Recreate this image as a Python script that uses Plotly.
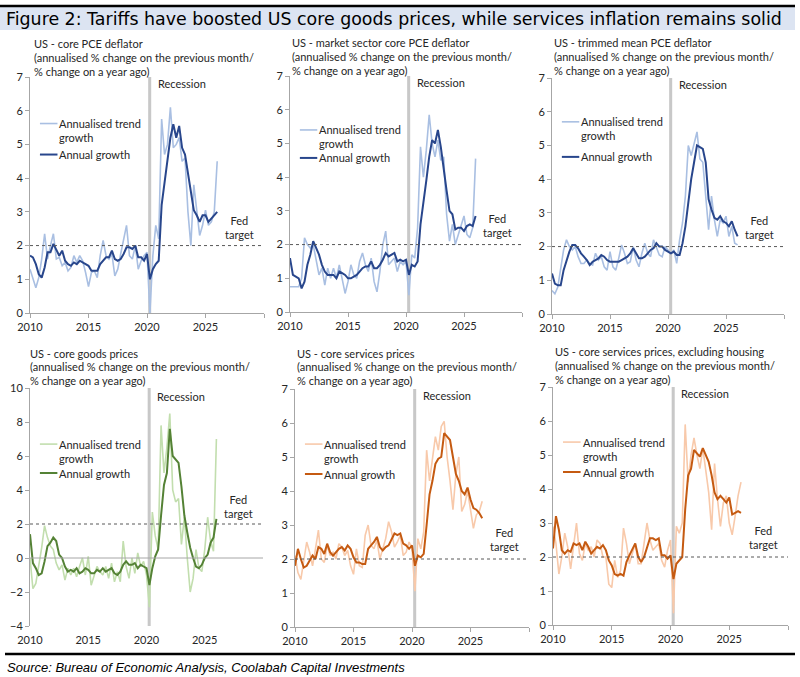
import plotly.graph_objects as go
from plotly.subplots import make_subplots

# quarterly observations, 2010Q1 .. 2026Q1 (decimal years)
quarters = [2010 + 0.25 * i for i in range(65)]

# US - core PCE deflator
pce_trend = [1.30, 1.00, 0.75, 1.05, 1.60, 2.35, 1.60, 2.00, 2.35, 1.60, 1.65, 1.40, 1.50, 1.25, 1.35, 1.70,
             1.50, 1.70, 1.55, 1.20, 0.78, 1.20, 1.25, 1.05, 1.70, 2.15, 1.70, 1.60, 1.75, 1.10, 1.30, 1.75,
             2.20, 2.60, 1.70, 1.60, 2.00, 1.30, 1.55, 1.70, 1.80, 0.00, 1.70, 2.60, 2.20, 5.75, 4.70, 5.00,
             6.10, 4.90, 5.00, 5.20, 4.50, 4.60, 3.00, 2.00, 3.80, 3.00, 2.30, 2.60, 3.05, 2.60, 2.70, 3.00, 4.50]
pce_annual = [1.70, 1.65, 1.45, 1.15, 1.05, 1.35, 1.80, 1.80, 2.05, 1.85, 1.70, 1.85, 1.55, 1.45, 1.40, 1.50,
              1.45, 1.55, 1.50, 1.45, 1.40, 1.25, 1.25, 1.25, 1.45, 1.55, 1.65, 1.65, 1.85, 1.60, 1.55, 1.60,
              1.75, 1.95, 1.95, 1.90, 2.00, 1.65, 1.65, 1.55, 1.75, 1.00, 1.30, 1.45, 1.55, 3.20, 3.90, 4.60,
              5.20, 5.60, 5.20, 5.55, 4.90, 4.70, 4.10, 3.50, 3.05, 2.90, 2.70, 2.90, 2.90, 2.70, 2.80, 2.90, 3.00]

# US - market sector core PCE deflator
mkt_trend = [0.75, 0.75, 0.75, 0.75, 1.00, 2.20, 2.00, 1.90, 2.00, 1.50, 1.10, 1.30, 0.80, 1.30, 1.00, 1.30,
             1.00, 1.40, 1.00, 0.55, 0.90, 1.40, 1.10, 1.00, 1.50, 1.75, 1.40, 1.20, 1.60, 0.90, 0.60, 1.20,
             2.00, 2.40, 1.40, 1.50, 1.60, 1.20, 1.50, 1.40, 1.50, 0.50, 1.70, 1.60, 2.50, 4.90, 4.00, 4.80,
             5.85, 5.00, 4.60, 5.10, 4.50, 4.60, 2.90, 2.10, 2.60, 2.00, 2.30, 2.60, 2.85, 2.30, 2.20, 2.50, 4.55]
mkt_annual = [1.60, 1.10, 1.05, 1.00, 0.70, 0.90, 1.40, 1.70, 2.10, 1.90, 1.70, 1.40, 1.20, 1.10, 1.10, 1.10,
              1.00, 1.20, 1.15, 1.10, 1.00, 1.00, 1.05, 1.10, 1.20, 1.30, 1.35, 1.35, 1.50, 1.30, 1.30, 1.40,
              1.55, 1.75, 1.65, 1.70, 1.75, 1.50, 1.55, 1.50, 1.55, 1.10, 1.40, 1.35, 1.50, 2.60, 3.20, 3.90,
              4.60, 5.10, 5.00, 5.40, 4.90, 4.20, 3.60, 3.00, 2.90, 2.45, 2.50, 2.50, 2.40, 2.55, 2.60, 2.55, 2.85]

# US - trimmed mean PCE deflator
trim_trend = [0.70, 0.60, 0.80, 1.30, 1.90, 2.20, 2.00, 1.90, 2.00, 1.70, 1.50, 1.50, 1.60, 1.50, 1.45, 1.80,
              1.60, 1.70, 1.40, 1.30, 1.85, 1.40, 1.30, 1.65, 2.05, 1.80, 1.50, 1.55, 2.00, 1.60, 1.40, 1.80,
              2.10, 1.80, 1.70, 2.20, 2.00, 1.75, 1.70, 2.00, 1.90, 1.80, 1.90, 1.50, 2.20, 2.70, 3.50, 5.00,
              4.70, 5.05, 5.40, 4.60, 4.50, 3.50, 2.50, 3.50, 2.80, 2.30, 2.80, 2.70, 2.90, 2.30, 2.60, 2.10, 2.05]
trim_annual = [1.20, 0.90, 0.85, 0.85, 1.30, 1.60, 1.85, 2.05, 2.05, 1.95, 1.80, 1.70, 1.60, 1.45, 1.55, 1.60,
               1.65, 1.75, 1.70, 1.60, 1.55, 1.55, 1.55, 1.55, 1.60, 1.65, 1.70, 1.80, 1.95, 1.80, 1.65, 1.65,
               1.70, 1.80, 1.90, 1.95, 2.10, 2.00, 2.00, 1.90, 1.85, 1.80, 1.85, 1.75, 1.75, 2.10, 2.60, 3.40,
               4.00, 4.50, 5.00, 4.95, 4.90, 4.50, 3.40, 3.10, 2.85, 2.80, 2.90, 2.75, 2.70, 2.60, 2.75, 2.50, 2.30]

# US - core goods prices
goods_trend = [0.00, -1.80, -1.50, -0.50, 0.60, 1.90, 1.20, 0.70, 0.50, -0.30, -0.70, -0.40, -1.30, -0.60, -1.00, -0.60,
               -1.10, -0.50, 0.00, -1.00, 0.10, -1.60, -1.00, -0.50, -0.80, -1.00, -0.50, -1.20, -0.30, -1.40, -0.80, -1.40,
               1.00, -0.50, -1.20, 0.00, -0.90, 0.30, -0.50, -0.20, -1.00, -2.90, 2.70, 1.30, 0.50, 7.80, 5.00, 6.50,
               8.50, 4.00, 3.30, 3.50, 0.80, 2.40, 0.00, -2.00, -1.20, 0.50, -0.60, -0.80, 0.50, 2.40, 1.00, 0.40, 7.00]
goods_annual = [1.40, -0.30, -0.60, -1.00, -0.90, -0.20, 0.70, 0.90, 1.20, 1.00, 0.20, 0.00, -0.50, -0.80, -0.70, -0.80,
                -0.60, -0.90, -0.80, -0.60, -0.70, -0.90, -0.90, -0.70, -0.80, -0.60, -0.80, -0.70, -0.60, -0.90, -1.00, -0.80,
                -0.40, -0.20, -0.40, -0.40, -0.30, -0.60, -0.40, -0.50, -0.60, -1.60, -0.60, 0.10, 0.50, 2.50, 4.30, 5.00,
                7.60, 6.00, 5.80, 5.60, 4.20, 2.50, 1.50, 0.60, 0.00, -0.50, -0.60, -0.40, 0.00, 0.20, 0.90, 1.20, 2.30]

# US - core services prices
serv_trend = [2.10, 1.60, 1.40, 2.00, 2.50, 2.20, 1.80, 2.30, 2.85, 2.00, 1.90, 2.40, 2.10, 2.20, 2.00, 2.45,
              2.35, 2.10, 2.25, 1.80, 1.55, 2.30, 1.80, 1.75, 2.70, 3.00, 2.40, 2.30, 2.55, 2.00, 2.30, 2.60,
              3.10, 2.80, 2.35, 2.50, 2.70, 2.10, 2.20, 2.50, 2.30, 1.05, 2.60, 2.30, 2.80, 5.20, 4.30, 5.00,
              5.60, 5.20, 5.90, 6.05, 5.00, 4.30, 3.45, 4.50, 5.00, 3.40, 3.60, 4.00, 3.40, 2.90, 3.30, 3.40, 3.70]
serv_annual = [1.80, 2.30, 2.00, 1.75, 1.80, 1.95, 2.10, 2.00, 2.35, 2.30, 2.15, 2.45, 2.20, 2.10, 2.20, 2.30,
               2.35, 2.25, 2.40, 2.30, 2.05, 1.90, 1.90, 1.85, 1.85, 2.30, 2.40, 2.50, 2.65, 2.35, 2.25, 2.35,
               2.40, 2.60, 2.75, 2.70, 2.75, 2.45, 2.40, 2.30, 2.40, 1.80, 2.10, 2.05, 2.15, 3.00, 3.90, 4.30,
               4.80, 4.95, 5.00, 5.70, 5.60, 5.50, 5.00, 4.50, 4.30, 4.00, 3.90, 4.10, 3.75, 3.50, 3.45, 3.35, 3.20]

# US - core services prices, excluding housing
exh_trend = [2.90, 2.40, 1.50, 2.00, 2.70, 2.30, 1.65, 2.30, 3.00, 2.10, 1.90, 2.40, 2.20, 2.30, 2.00, 2.50,
             2.40, 2.00, 2.00, 1.20, 1.10, 1.90, 1.40, 1.60, 2.85, 2.40, 1.80, 2.10, 2.40, 1.80, 1.80, 2.40,
             3.00, 2.50, 2.20, 2.30, 2.40, 1.90, 1.70, 2.20, 2.50, 0.35, 2.90, 2.70, 3.00, 5.90, 4.20, 5.00,
             5.50, 5.00, 4.60, 5.20, 4.60, 3.90, 2.80, 4.75, 3.70, 2.90, 3.60, 3.80, 3.00, 2.65, 3.20, 3.80, 4.20]
exh_annual = [2.25, 3.20, 2.80, 2.20, 2.10, 2.20, 2.15, 2.40, 2.35, 2.40, 2.20, 2.45, 2.30, 2.10, 2.20, 2.30,
              2.25, 2.35, 2.20, 1.90, 1.75, 1.50, 1.45, 1.50, 1.45, 1.85, 2.05, 2.25, 2.40, 2.00, 1.85, 2.00,
              2.30, 2.55, 2.55, 2.50, 2.55, 2.05, 2.05, 1.95, 2.05, 1.35, 1.80, 1.90, 2.00, 3.40, 4.40, 4.60,
              5.15, 5.05, 4.95, 5.20, 5.00, 4.80, 4.40, 3.90, 3.70, 3.80, 3.70, 3.60, 3.75, 3.25, 3.30, 3.35, 3.30]

titles = ["US - core PCE deflator",
          "US - market sector core PCE deflator",
          "US - trimmed mean PCE deflator",
          "US - core goods prices",
          "US - core services prices",
          "US - core services prices, excluding housing"]
subtitle = ["(annualised % change on the previous month/", "% change on a year ago)"]

panels = [(pce_trend, pce_annual), (mkt_trend, mkt_annual), (trim_trend, trim_annual),
          (goods_trend, goods_annual), (serv_trend, serv_annual), (exh_trend, exh_annual)]

BLUE = ("#A9BFE2", "#28468C")
GREEN = ("#C2DEAE", "#548235")
ORANGE = ("#F8C9AA", "#C55A11")
colours = [BLUE, BLUE, BLUE, GREEN, ORANGE, ORANGE]

# layout in pixels (800 x 677 figure, no margins)
W, H = 800, 677
x_px = [(30, 264), (290, 522), (552, 784), (30, 263), (295, 529), (553, 788)]
y_px = [(77, 313), (76, 312), (78, 314), (388, 626), (389, 627), (387, 625)]
title_px = [(32, 43), (290, 42), (552, 42), (28, 353), (295, 353), (553, 351)]
y_ranges = [(0, 7)] * 3 + [(-4, 10), (0, 7), (0, 7)]
# legend / label positions in data units
legend_y = [(5.62, 4.70), (5.40, 4.57), (5.70, 4.66), (6.70, 5.00), (5.38, 4.50), (5.38, 4.50)]
fed_y = [2.55, 2.57, 2.57, 3.05, 2.57, 2.58]
recession_y = [6.8, 6.8, 6.8, 9.5, 6.8, 6.8]

FONT = "Lato"
TXT = "#262626"
FS = 11

fig = make_subplots(rows=2, cols=3)

shapes = []
annotations = []

for i, (trend, annual) in enumerate(panels):
    row, col = i // 3 + 1, i % 3 + 1
    light, dark = colours[i]
    fig.add_trace(go.Scatter(x=quarters, y=trend, mode="lines", name="Annualised trend growth",
                             line=dict(color=light, width=1.6), showlegend=False), row=row, col=col)
    fig.add_trace(go.Scatter(x=quarters, y=annual, mode="lines", name="Annual growth",
                             line=dict(color=dark, width=2), showlegend=False), row=row, col=col)

    n = "" if i == 0 else str(i + 1)
    xa, ya = "x" + n, "y" + n
    x0, x1 = x_px[i]
    y0, y1 = y_px[i]
    ymin, ymax = y_ranges[i]
    fig.layout["xaxis" + n].update(
        domain=[x0 / W, x1 / W], range=[2010, 2030], automargin=False,
        tickvals=[2010, 2015, 2020, 2025, 2030], ticktext=["2010", "2015", "2020", "2025", ""],
        showgrid=False, zeroline=False, showline=(i != 3), linecolor="#A6A6A6", linewidth=1,
        ticks="outside", ticklen=4, tickcolor="#A6A6A6" if i != 3 else "rgba(0,0,0,0)",
        tickfont=dict(family=FONT, size=FS, color=TXT), anchor=ya)
    fig.layout["yaxis" + n].update(
        domain=[1 - y1 / H, 1 - y0 / H], range=[ymin, ymax], dtick=2 if i == 3 else 1, automargin=False,
        showgrid=False, zeroline=False, showline=True, linecolor="#A6A6A6", linewidth=1,
        ticks="outside", ticklen=4, tickcolor="#A6A6A6",
        tickfont=dict(family=FONT, size=FS, color=TXT), anchor=xa)

    # recession band
    shapes.append(dict(type="rect", xref=xa, yref=ya + " domain", x0=2020.1, x1=2020.36, y0=0, y1=1,
                       fillcolor="#C8C8C8", line=dict(width=0), layer="below"))
    # zero line for the goods panel
    if i == 3:
        shapes.append(dict(type="line", xref=xa + " domain", yref=ya, x0=0, x1=1, y0=0, y1=0,
                           line=dict(color="#A6A6A6", width=1)))
    # Fed target
    shapes.append(dict(type="line", xref=xa + " domain", yref=ya, x0=0, x1=1, y0=2, y1=2,
                       line=dict(color="#595959", width=1, dash="dot")))
    annotations.append(dict(xref=xa, yref=ya, x=2027.9, y=fed_y[i], text="Fed<br>target",
                            showarrow=False, align="center", font=dict(family=FONT, size=FS, color=TXT)))
    annotations.append(dict(xref=xa, yref=ya, x=2020.75, y=recession_y[i], text="Recession",
                            xanchor="left", showarrow=False, font=dict(family=FONT, size=FS, color=TXT)))

    # legend
    ly_trend, ly_annual = legend_y[i]
    for ly, colr, wid, label in [(ly_trend, light, 1.6, "Annualised trend"),
                                 (ly_annual, dark, 2, "Annual growth")]:
        shapes.append(dict(type="line", xref=xa, yref=ya, x0=2010.85, x1=2012.35, y0=ly, y1=ly,
                           line=dict(color=colr, width=wid)))
        annotations.append(dict(xref=xa, yref=ya, x=2012.35, y=ly, text=label, xanchor="left",
                                yanchor="middle", showarrow=False,
                                font=dict(family=FONT, size=FS, color=TXT)))
    annotations.append(dict(xref=xa, yref=ya, x=2012.35, y=ly_trend, yshift=-14, text="growth",
                            xanchor="left", yanchor="middle", showarrow=False,
                            font=dict(family=FONT, size=FS, color=TXT)))

    # panel title, three lines
    tx, ty = title_px[i]
    for k, line in enumerate([titles[i]] + subtitle):
        annotations.append(dict(xref="paper", yref="paper", x=tx / W, y=1 - (ty + 14 * k) / H,
                                text=line, xanchor="left", yanchor="middle",
                                showarrow=False, font=dict(family=FONT, size=FS, color=TXT)))

# header band and rules
shapes.append(dict(type="rect", xref="paper", yref="paper", x0=0, x1=795 / W, y0=1 - 30 / H, y1=1 - 7 / H,
                   fillcolor="#DCE4F2", line=dict(width=0), layer="below"))
shapes.append(dict(type="line", xref="paper", yref="paper", x0=0, x1=795 / W, y0=1 - 6 / H, y1=1 - 6 / H,
                   line=dict(color="black", width=2.5)))
shapes.append(dict(type="line", xref="paper", yref="paper", x0=5 / W, x1=795 / W, y0=1 - 654 / H, y1=1 - 654 / H,
                   line=dict(color="black", width=2.5)))

annotations.append(dict(xref="paper", yref="paper", x=4 / W, y=1 - 19 / H,
                        text="Figure 2: Tariffs have boosted US core goods prices, while services inflation remains solid",
                        xanchor="left", yanchor="middle", showarrow=False,
                        font=dict(family="DejaVu Sans", size=17.4, color="black")))
annotations.append(dict(xref="paper", yref="paper", x=5 / W, y=1 - 667 / H,
                        text="<i>Source: Bureau of Economic Analysis, Coolabah Capital Investments</i>",
                        xanchor="left", yanchor="middle", showarrow=False,
                        font=dict(family="Liberation Sans", size=13, color="black")))

fig.update_layout(width=W, height=H, margin=dict(l=0, r=0, t=0, b=0),
                  paper_bgcolor="white", plot_bgcolor="white",
                  shapes=shapes, annotations=annotations, showlegend=False)

# page body margin would push the figure off the window edges
fig.write_html("out.html", config={"displayModeBar": False},
               post_script="document.body.style.margin = '0px';")
